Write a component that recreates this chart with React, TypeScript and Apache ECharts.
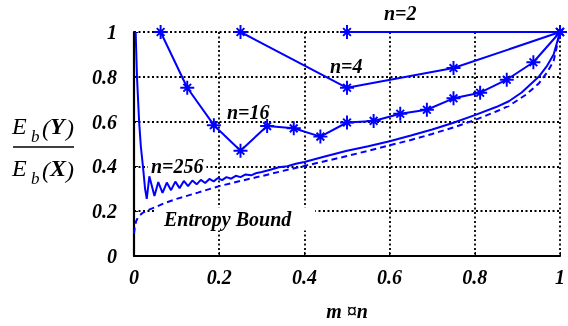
import React, { useEffect, useRef } from "react";
import * as echarts from "echarts";

// ---- data ----
const xTicks = [0, 0.2, 0.4, 0.6, 0.8, 1];
const yTicks = [0, 0.2, 0.4, 0.6, 0.8, 1];

const n2X = [0.5, 1];
const n2Y = [1, 1];

const n4X = [0.25, 0.5, 0.75, 1];
const n4Y = [1, 0.751, 0.839, 1];

const n16X = [0.0625, 0.125, 0.1875, 0.25, 0.3125, 0.375, 0.4375, 0.5, 0.5625, 0.625, 0.6875, 0.75, 0.8125, 0.875, 0.9375, 1];
const n16Y = [1, 0.751, 0.584, 0.47, 0.58, 0.57, 0.533, 0.596, 0.603, 0.635, 0.653, 0.704, 0.729, 0.787, 0.865, 1];

const n256X = [0.0039, 0.007, 0.012, 0.016, 0.021, 0.026, 0.03, 0.036, 0.048, 0.057, 0.067, 0.077, 0.087, 0.097, 0.107, 0.117, 0.127, 0.137, 0.147, 0.157, 0.167, 0.177, 0.187, 0.197, 0.207, 0.217, 0.228, 0.239, 0.25, 0.262, 0.275, 0.288, 0.3, 0.32, 0.34, 0.36, 0.38, 0.4, 0.45, 0.5, 0.55, 0.6, 0.65, 0.7, 0.75, 0.8, 0.85, 0.88, 0.91, 0.95, 0.97, 0.985, 1];
const n256Y = [1, 0.8, 0.6, 0.49, 0.4, 0.3, 0.255, 0.356, 0.268, 0.33, 0.282, 0.328, 0.294, 0.332, 0.303, 0.335, 0.312, 0.337, 0.32, 0.34, 0.326, 0.344, 0.333, 0.348, 0.339, 0.352, 0.345, 0.358, 0.352, 0.364, 0.36, 0.371, 0.375, 0.385, 0.396, 0.401, 0.412, 0.42, 0.445, 0.47, 0.49, 0.512, 0.538, 0.565, 0.595, 0.629, 0.665, 0.691, 0.73, 0.8, 0.85, 0.9, 1];

const boundX = [0, 0.002, 0.005, 0.01, 0.02, 0.03, 0.05, 0.07, 0.1, 0.15, 0.2, 0.25, 0.3, 0.35, 0.4, 0.45, 0.5, 0.55, 0.6, 0.65, 0.7, 0.75, 0.8, 0.85, 0.88, 0.92, 0.95, 0.97, 0.985, 1];
const boundY = [0.1, 0.13, 0.155, 0.175, 0.192, 0.203, 0.218, 0.235, 0.255, 0.283, 0.312, 0.335, 0.357, 0.38, 0.402, 0.424, 0.446, 0.47, 0.494, 0.518, 0.545, 0.574, 0.607, 0.645, 0.67, 0.72, 0.77, 0.82, 0.87, 1];

const seriesLabels = ["n=2", "n=4", "n=16", "n=256", "Entropy Bound"];
const xAxisName = "m \u00A4n";

const zip = (xs: number[], ys: number[]) => xs.map((x, i) => [x, ys[i]]);

// asterisk marker (+ and x combined), built as filled bars with same winding
function asteriskPath(): string {
  const c = 10, r = 10, h = 1.4;
  const parts: string[] = [];
  const angles = [0, 90, 45, 135];
  for (const a of angles) {
    const rad = (a * Math.PI) / 180;
    const dx = Math.cos(rad), dy = Math.sin(rad);
    const nx = -dy, ny = dx;
    const len = a % 90 === 0 ? r : r * 0.78;
    const ax = c - dx * len, ay = c - dy * len;
    const bx = c + dx * len, by = c + dy * len;
    const p1 = [ax - nx * h, ay - ny * h];
    const p2 = [bx - nx * h, by - ny * h];
    const p3 = [bx + nx * h, by + ny * h];
    const p4 = [ax + nx * h, ay + ny * h];
    parts.push(
      `M${p1[0].toFixed(2)} ${p1[1].toFixed(2)}L${p2[0].toFixed(2)} ${p2[1].toFixed(2)}L${p3[0].toFixed(2)} ${p3[1].toFixed(2)}L${p4[0].toFixed(2)} ${p4[1].toFixed(2)}Z`
    );
  }
  return "path://M0 0M20 20" + parts.join("");
}

const BLUE = "#0000ff";
const SERIF = "'Liberation Serif', 'Times New Roman', serif";

export default function App() {
  const ref = useRef<HTMLDivElement>(null);
  useEffect(() => {
    if (!ref.current) return;
    const chart = echarts.init(ref.current, null, { renderer: "svg" });
    const star = asteriskPath();
    const labelFont = {
      fontFamily: SERIF,
      fontWeight: "bold" as const,
      fontStyle: "italic" as const,
      fontSize: 20,
      color: "#000",
    };
    const markSeries = (name: string, xs: number[], ys: number[]) => ({
      name,
      type: "line",
      data: zip(xs, ys),
      symbol: star,
      symbolSize: 14,
      showAllSymbol: true,
      lineStyle: { color: BLUE, width: 2 },
      itemStyle: { color: BLUE },
      z: 3,
    });
    const txt = (text: string, x: number, y: number, extra: any = {}) => ({
      type: "text",
      x,
      y,
      z: 1,
      style: {
        text,
        fill: "#000",
        font: `italic bold 20px ${SERIF}`,
        verticalAlign: "middle",
        align: "left",
        ...extra,
      },
    });
    const mathTxt = (text: string, x: number, y: number, size: number, bold = false) => ({
      type: "text",
      x,
      y,
      z: 1,
      style: {
        text,
        fill: "#000",
        font: `italic ${bold ? "bold " : ""}${size}px ${SERIF}`,
        verticalAlign: "middle",
        align: "left",
      },
    });
    const grid = { color: "#000", width: 1.8, type: [2, 2.5] };
    chart.setOption({
      animation: false,
      grid: { left: 134, top: 32, right: 2, bottom: 64 },
      xAxis: {
        type: "value",
        min: xTicks[0],
        max: xTicks[xTicks.length - 1],
        interval: 0.2,
        name: xAxisName,
        nameLocation: "middle",
        nameGap: 45,
        nameTextStyle: { ...labelFont },
        axisLine: { show: true, onZero: false, lineStyle: { color: "#000", width: 2.2 } },
        axisTick: { show: true, inside: true, length: 4, lineStyle: { color: "#000" } },
        axisLabel: { ...labelFont, margin: 11, formatter: (v: number) => String(+v.toFixed(1)) },
        splitLine: { show: true, lineStyle: grid },
      },
      yAxis: {
        type: "value",
        min: yTicks[0],
        max: yTicks[yTicks.length - 1],
        interval: 0.2,
        axisLine: { show: true, onZero: false, lineStyle: { color: "#000", width: 2.2 } },
        axisTick: { show: true, inside: true, length: 4, lineStyle: { color: "#000" } },
        axisLabel: { ...labelFont, margin: 17, formatter: (v: number) => String(+v.toFixed(1)) },
        splitLine: { show: true, lineStyle: grid },
      },
      series: [
        markSeries(seriesLabels[0], n2X, n2Y),
        markSeries(seriesLabels[1], n4X, n4Y),
        markSeries(seriesLabels[2], n16X, n16Y),
        {
          name: seriesLabels[3],
          type: "line",
          data: zip(n256X, n256Y),
          showSymbol: false,
          symbol: "none",
          lineStyle: { color: BLUE, width: 2 },
          z: 3,
        },
        {
          name: seriesLabels[4],
          type: "line",
          data: zip(boundX, boundY),
          showSymbol: false,
          symbol: "none",
          lineStyle: { color: BLUE, width: 2, type: [6, 4] },
          z: 3,
        },
      ],
      graphic: [
        txt(seriesLabels[0], 384, 13),
        txt(seriesLabels[1], 330, 66),
        txt(seriesLabels[2], 227, 112),
        txt(seriesLabels[3], 148, 166, { backgroundColor: "#fff", padding: [1, 3, 0, 3] }),
        txt(seriesLabels[4], 156, 219, { backgroundColor: "#fff", padding: [2, 24, 1, 8] }),
        // y-axis label: E_b(Y) / E_b(X)
        mathTxt("E", 12, 126, 24),
        mathTxt("b", 31, 136, 17),
        mathTxt("(", 42, 128, 24),
        mathTxt("Y", 50, 126, 24, true),
        mathTxt(")", 66, 128, 24),
        { type: "line", z: 1, shape: { x1: 13, y1: 147, x2: 74, y2: 147 }, style: { stroke: "#000", lineWidth: 1.3 } },
        mathTxt("E", 12, 168, 24),
        mathTxt("b", 31, 178, 17),
        mathTxt("(", 42, 170, 24),
        mathTxt("X", 50, 168, 24, true),
        mathTxt(")", 66, 170, 24),
      ],
    });
    return () => chart.dispose();
  }, []);
  return <div ref={ref} style={{ position: "fixed", left: 0, top: 0, width: 568, height: 326 }} />;
}
